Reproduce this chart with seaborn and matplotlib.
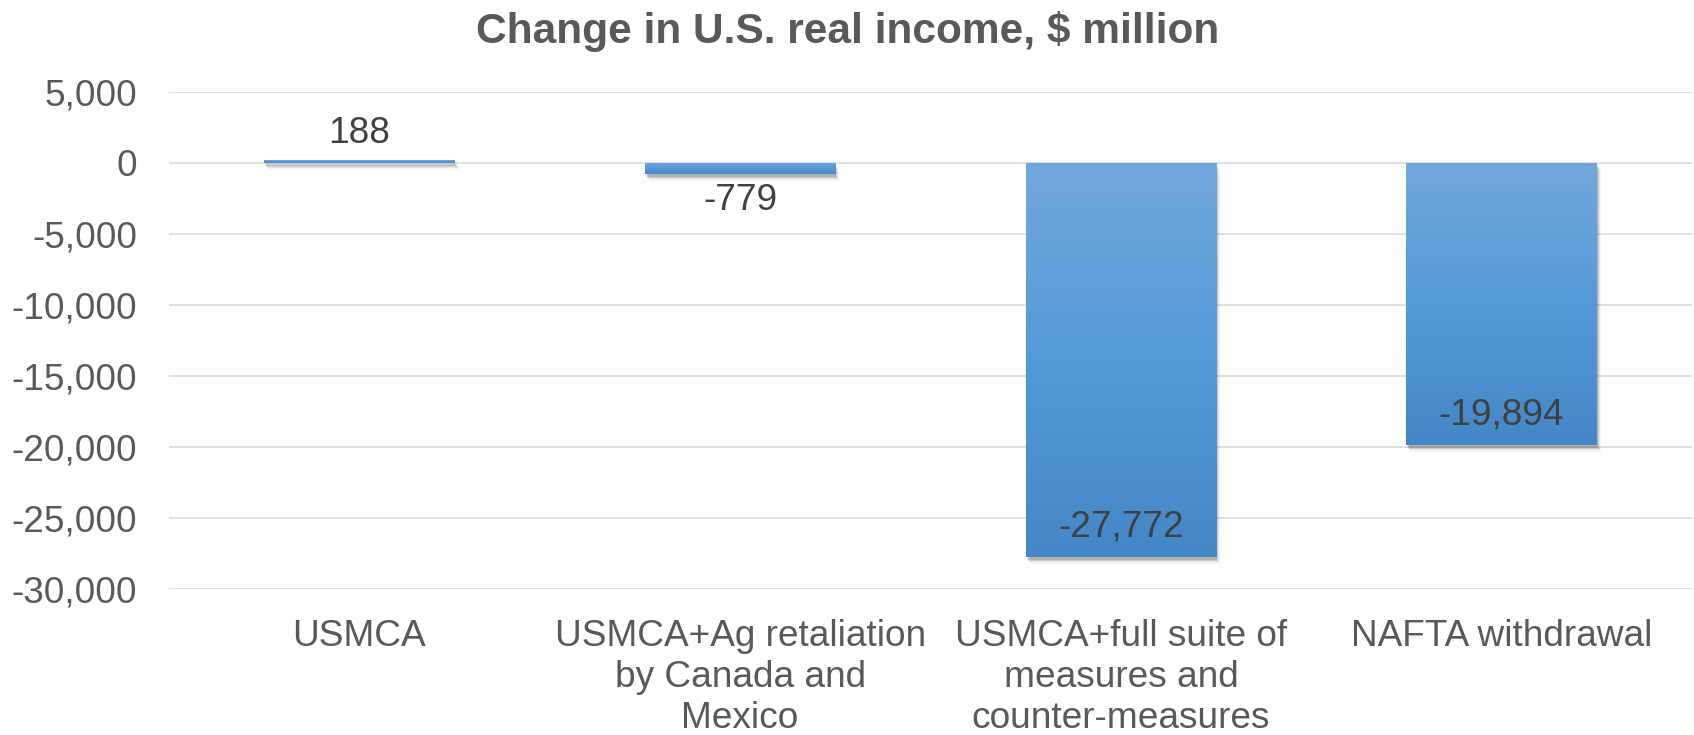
import numpy as np
import matplotlib
matplotlib.use("Agg")
import matplotlib.pyplot as plt
import matplotlib.patheffects as pe
from matplotlib.colors import LinearSegmentedColormap
from matplotlib.ticker import FuncFormatter
import seaborn as sns

# Scenario results: change in U.S. real income, $ million
categories = [
    "USMCA",
    "USMCA+Ag retaliation\nby Canada and\nMexico",
    "USMCA+full suite of\nmeasures and\ncounter-measures",
    "NAFTA withdrawal",
]
values = [188, -779, -27772, -19894]
y_ticks = [5000, 0, -5000, -10000, -15000, -20000, -25000, -30000]
title = "Change in U.S. real income, $ million"

sns.set_theme(style="white")
plt.rcParams["font.family"] = ["Liberation Sans", "DejaVu Sans"]

DPI = 72
fig = plt.figure(figsize=(1694 / DPI, 735 / DPI), dpi=DPI)
ax = fig.add_axes([169 / 1694, (735 - 588.8) / 735, (1692 - 169) / 1694, (588.8 - 91.8) / 735])

grey_text = "#595959"
label_text = "#404040"
mid_blue = "#559AD9"

sns.barplot(x=categories, y=values, color=mid_blue, saturation=1, width=0.5, ax=ax, zorder=3)

grad = LinearSegmentedColormap.from_list("bar_grad", ["#4487C6", "#549AD9", "#72A7DC"])
gradient = np.linspace(0, 1, 256).reshape(-1, 1)

for bar, v in zip(ax.patches, values):
    bar.set_edgecolor("none")
    bar.set_path_effects([
        pe.SimplePatchShadow(offset=(1, -3), shadow_rgbFace="black", alpha=0.12),
        pe.SimplePatchShadow(offset=(2, -4), shadow_rgbFace="black", alpha=0.10),
        pe.SimplePatchShadow(offset=(3, -5), shadow_rgbFace="black", alpha=0.07),
        pe.SimplePatchShadow(offset=(4, -7), shadow_rgbFace="black", alpha=0.04),
        pe.Normal(),
    ])
    x0 = bar.get_x()
    w = bar.get_width()
    y_lo = min(0, v)
    y_hi = max(0, v)
    im = ax.imshow(gradient, cmap=grad, origin="lower", aspect="auto",
                   extent=[x0, x0 + w, y_lo, y_hi], zorder=4, interpolation="bicubic")
    im.set_clip_path(bar)

# value labels
for i, v in enumerate(values):
    if v > 0:
        off = 27
    elif abs(v) < 5000:
        off = -27
    else:
        off = 30
    ax.annotate(f"{v:,}", xy=(i, v), xytext=(0, off), textcoords="offset points",
                ha="center", va="center", fontsize=37, color=label_text, zorder=6)

ax.set_xlim(-0.5, len(categories) - 0.5)
ax.set_ylim(-30000, 5000)
ax.set_yticks(y_ticks)
ax.yaxis.set_major_formatter(FuncFormatter(lambda y, _: f"{int(y):,}"))
ax.grid(axis="y", color="#D9D9D9", linewidth=1.5, zorder=0)
ax.set_axisbelow(True)
for s in ax.spines.values():
    s.set_visible(False)

ax.tick_params(axis="y", length=0, pad=32, labelsize=37, labelcolor=grey_text)
ax.tick_params(axis="x", length=0, pad=30, labelsize=37, labelcolor=grey_text)
for lab in ax.get_xticklabels():
    lab.set_linespacing(1.22)
    lab.set_va("top")
ax.set_xlabel("")
ax.set_ylabel("")

fig.text(848 / 1694, 1 - 32 / 735, title, ha="center", va="center",
         fontsize=42.5, fontweight="bold", color=grey_text)

fig.savefig("out.png", dpi=DPI, facecolor="white")
